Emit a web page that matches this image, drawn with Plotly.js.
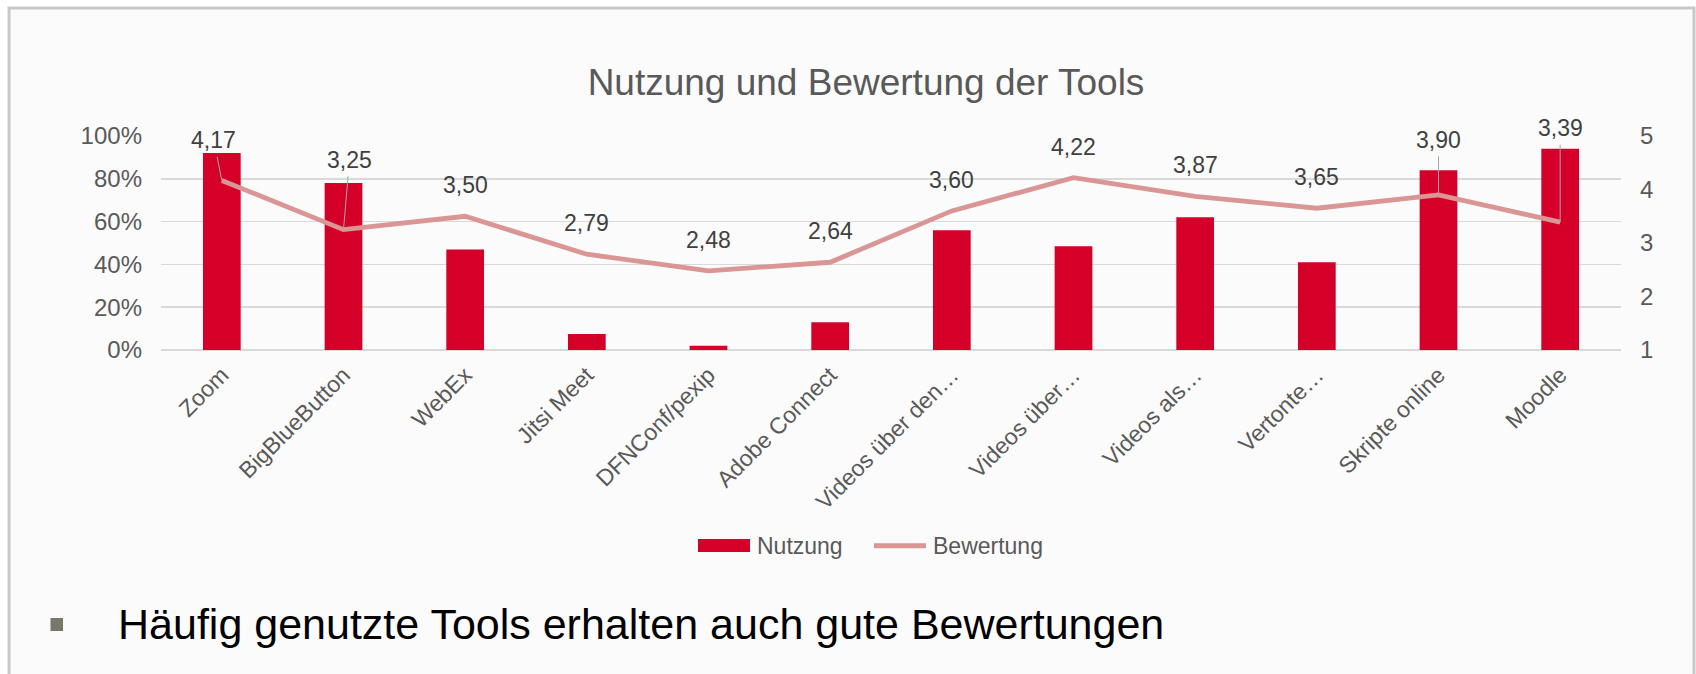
<!DOCTYPE html>
<html>
<head>
<meta charset="utf-8">
<script src="https://cdn.plot.ly/plotly-3.0.1.min.js"></script>
<style>
  html, body { margin: 0; padding: 0; background: #ffffff; }
  #chart { width: 1696px; height: 674px; }
</style>
</head>
<body>
<div id="chart"></div>
<script>
// ---- data ----
const categories = [
  "Zoom", "BigBlueButton", "WebEx", "Jitsi Meet", "DFNConf/pexip", "Adobe Connect",
  "Videos über den…", "Videos über…", "Videos als…", "Vertonte…", "Skripte online", "Moodle"
];
const nutzung = [92, 78, 47, 7.5, 2, 13, 56, 48.5, 62, 41, 84, 94];          // percent
const bewertung = [4.17, 3.25, 3.50, 2.79, 2.48, 2.64, 3.60, 4.22, 3.87, 3.65, 3.90, 3.39];
const leftTicks = [0, 20, 40, 60, 80, 100];
const rightTicks = [1, 2, 3, 4, 5];
const titleText = "Nutzung und Bewertung der Tools";
const seriesNames = ["Nutzung", "Bewertung"];
const bulletText = "Häufig genutzte Tools erhalten auch gute Bewertungen";

// ---- layout / style ----
const W = 1696, H = 674;
const M = { l: 161, r: 75, t: 136, b: 324 };
const plotW = W - M.l - M.r, plotH = H - M.t - M.b;
const px = x => (x - M.l) / plotW;          // pixel -> paper x
const py = y => (H - M.b - y) / plotH;      // pixel -> paper y

const FONT = "Liberation Sans, Arial, Helvetica, sans-serif";
const barColor = "#d5002a";
const lineColor = "#d99694";
const axisText = "#595959";
const labelText = "#404040";

// label offsets for data labels (pixels); default is plain text above the point
const leaderOffsets = { 0: [-8, -40], 1: [6, -70], 10: [0, -55], 11: [0, -94] };
const plainShift = 31;

const fmt = v => v.toFixed(2).replace(".", ",");

const traces = [
  {
    type: "bar", x: categories, y: nutzung, name: seriesNames[0],
    marker: { color: barColor }, yaxis: "y", showlegend: false, hoverinfo: "skip"
  },
  {
    type: "scatter", mode: "lines", x: categories, y: bewertung, name: seriesNames[1],
    line: { color: lineColor, width: 4.8 }, yaxis: "y2", showlegend: false, hoverinfo: "skip"
  }
];

const annotations = bewertung.map((v, i) => {
  const base = {
    x: categories[i], y: v, xref: "x", yref: "y2", text: fmt(v),
    font: { family: FONT, size: 23, color: labelText }
  };
  if (leaderOffsets[i]) {
    return Object.assign(base, {
      showarrow: true, arrowhead: 0, arrowwidth: 1, arrowcolor: "#a6a6a6",
      ax: leaderOffsets[i][0], ay: leaderOffsets[i][1], standoff: 0, startstandoff: 2
    });
  }
  return Object.assign(base, { showarrow: false, yshift: plainShift });
});

// legend (drawn manually to match the wide swatches)
annotations.push(
  { xref: "paper", yref: "paper", x: px(755), y: py(545.5), xanchor: "left", yanchor: "middle",
    text: seriesNames[0], showarrow: false, font: { family: FONT, size: 23, color: axisText } },
  { xref: "paper", yref: "paper", x: px(931), y: py(545.5), xanchor: "left", yanchor: "middle",
    text: seriesNames[1], showarrow: false, font: { family: FONT, size: 23, color: axisText } },
  { xref: "paper", yref: "paper", x: px(116), y: py(624), xanchor: "left", yanchor: "middle",
    text: bulletText, showarrow: false, font: { family: FONT, size: 43, color: "#000000" } }
);

const shapes = [
  { type: "rect", xref: "paper", yref: "paper", layer: "below",
    x0: px(9), x1: px(1694), y0: py(700), y1: py(8),
    line: { color: "#c8c8c8", width: 3 }, fillcolor: "#fbfbfb" },
  { type: "rect", xref: "paper", yref: "paper",
    x0: px(698), x1: px(750), y0: py(552), y1: py(539),
    line: { width: 0 }, fillcolor: barColor },
  { type: "line", xref: "paper", yref: "paper",
    x0: px(874), x1: px(926), y0: py(545.7), y1: py(545.7),
    line: { color: lineColor, width: 5 } },
  { type: "rect", xref: "paper", yref: "paper",
    x0: px(50.5), x1: px(63), y0: py(631), y1: py(618),
    line: { width: 0 }, fillcolor: "#77786a" }
];

const layout = {
  width: W, height: H,
  margin: M,
  paper_bgcolor: "#ffffff",
  plot_bgcolor: "rgba(0,0,0,0)",
  font: { family: FONT, color: axisText },
  title: {
    text: titleText, xref: "container", yref: "container",
    x: 866 / W, y: 1 - 82 / H, xanchor: "center", yanchor: "middle",
    font: { family: FONT, size: 37, color: axisText }
  },
  bargap: 0.69,
  showlegend: false,
  xaxis: {
    type: "category", tickangle: -45, showgrid: false, showline: false, zeroline: false,
    ticks: "", tickfont: { family: FONT, size: 23, color: axisText }, ticklabelstandoff: 6,
    fixedrange: true
  },
  yaxis: {
    range: [0, 100], tickvals: leftTicks, ticktext: leftTicks.map(t => t + "%"),
    showgrid: true, gridcolor: "#d9d9d9", gridwidth: 1.6,
    zeroline: true, zerolinecolor: "#d9d9d9", zerolinewidth: 1.6,
    showline: false, ticks: "", tickfont: { family: FONT, size: 24, color: axisText },
    ticklabelstandoff: 18, fixedrange: true
  },
  yaxis2: {
    range: [1, 5], tickvals: rightTicks, overlaying: "y", side: "right",
    showgrid: false, zeroline: false, showline: false, ticks: "",
    tickfont: { family: FONT, size: 24, color: axisText },
    ticklabelstandoff: 18, fixedrange: true
  },
  annotations: annotations,
  shapes: shapes
};

Plotly.newPlot("chart", traces, layout, { displayModeBar: false, staticPlot: true });
</script>
</body>
</html>
